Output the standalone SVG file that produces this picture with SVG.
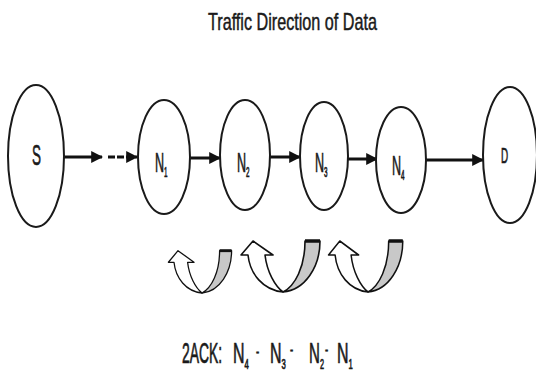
<svg xmlns="http://www.w3.org/2000/svg" xmlns:xlink="http://www.w3.org/1999/xlink" width="536" height="377" viewBox="0 0 536 377">
<style>
.node{fill:#fff;stroke:#1a1a1a;stroke-width:2}
.lbl{font-family:"Liberation Sans",Arial,sans-serif;fill:#1a1a1a;stroke:#1a1a1a;stroke-width:0.7}
.edge{stroke:#111;stroke-width:3;fill:none}
.white{fill:#fff;stroke:#111;stroke-width:1.6;stroke-linejoin:round}
.gray{fill:#c8c8c8;stroke:#111;stroke-width:1.6;stroke-linejoin:round}
</style>
<defs>
<marker id="ah" viewBox="0 0 10 10" refX="9" refY="5" markerWidth="4" markerHeight="4" markerUnits="strokeWidth" orient="auto">
<path d="M0,0 L10,5 L0,10 Z" fill="#111"/>
</marker>
<g id="curl">
<path class="white" d="M0,0 C-20,-2 -33,-18 -35,-37 L-42,-37 L-30,-51 L-10,-37 L-18,-37 C-16,-20 -8,-6 0,0 Z"/>
<path class="gray" d="M0,0 C12,-6 22,-25 22,-51 L37,-51 C37,-25 22,-2 0,0 Z"/>
<path d="M22,-51 L37,-51" stroke="#111" stroke-width="3.5"/>
</g>
</defs>
<rect width="536" height="377" fill="#fff"/>
<text class="lbl" x="208" y="30" font-size="24" textLength="169" lengthAdjust="spacingAndGlyphs" style="stroke-width:0.5">Traffic Direction of Data</text>
<g id="connectors">
<line class="edge" x1="63" y1="157" x2="102" y2="157" marker-end="url(#ah)"/>
<line class="edge" x1="108" y1="157" x2="137" y2="157" stroke="#555" stroke-dasharray="7 2" marker-end="url(#ah)"/>
<line class="edge" x1="190" y1="158" x2="220" y2="158" marker-end="url(#ah)"/>
<line class="edge" x1="270" y1="157" x2="300" y2="157" marker-end="url(#ah)"/>
<line class="edge" x1="348" y1="159" x2="377" y2="159" marker-end="url(#ah)"/>
<line class="edge" x1="426" y1="160" x2="483" y2="160" marker-end="url(#ah)"/>
</g>
<g id="S">
<ellipse class="node" cx="36" cy="156" rx="28" ry="71"/>
<text class="lbl" transform="translate(32,165) scale(0.45,1)" font-size="30">S</text>
</g>
<g id="N1">
<ellipse class="node" cx="164" cy="157" rx="26" ry="57"/>
<text class="lbl" transform="translate(155,172) scale(0.45,1)" font-size="28">N<tspan font-size="14" dy="5">1</tspan></text>
</g>
<g id="N2">
<ellipse class="node" cx="245" cy="155" rx="25" ry="55"/>
<text class="lbl" transform="translate(237,172) scale(0.45,1)" font-size="28">N<tspan font-size="14" dy="5">2</tspan></text>
</g>
<g id="N3">
<ellipse class="node" cx="324" cy="156" rx="24" ry="54"/>
<text class="lbl" transform="translate(315,172) scale(0.45,1)" font-size="28">N<tspan font-size="14" dy="5">3</tspan></text>
</g>
<g id="N4">
<ellipse class="node" cx="401" cy="160" rx="25" ry="53"/>
<text class="lbl" transform="translate(392,175) scale(0.45,1)" font-size="28">N<tspan font-size="14" dy="5">4</tspan></text>
</g>
<g id="D">
<ellipse class="node" cx="510" cy="155" rx="27" ry="68"/>
<text class="lbl" transform="translate(501,163) scale(0.45,1)" font-size="22">D</text>
</g>
<g id="acks">
<use xlink:href="#curl" transform="translate(202,293) scale(0.8,0.83)"/>
<use xlink:href="#curl" transform="translate(283,292)"/>
<use xlink:href="#curl" transform="translate(368,292) scale(0.94,1)"/>
</g>
<g id="ack-text">
<text class="lbl" transform="translate(182,363) scale(0.48,1)" font-size="29">2ACK:</text>
<text class="lbl" transform="translate(233,363) scale(0.55,1)" font-size="29">N<tspan font-size="14" dy="6">4</tspan></text>
<text class="lbl" transform="translate(256,357) scale(0.6,1)" font-size="16">-</text>
<text class="lbl" transform="translate(270,363) scale(0.55,1)" font-size="29">N<tspan font-size="14" dy="6">3</tspan></text>
<text class="lbl" transform="translate(290,355) scale(0.6,1)" font-size="16">-</text>
<text class="lbl" transform="translate(309,363) scale(0.52,1)" font-size="29">N<tspan font-size="14" dy="6">2</tspan></text>
<text class="lbl" transform="translate(325,355) scale(0.6,1)" font-size="16">-</text>
<text class="lbl" transform="translate(337,363) scale(0.55,1)" font-size="29">N<tspan font-size="14" dy="6">1</tspan></text>
</g>
</svg>
